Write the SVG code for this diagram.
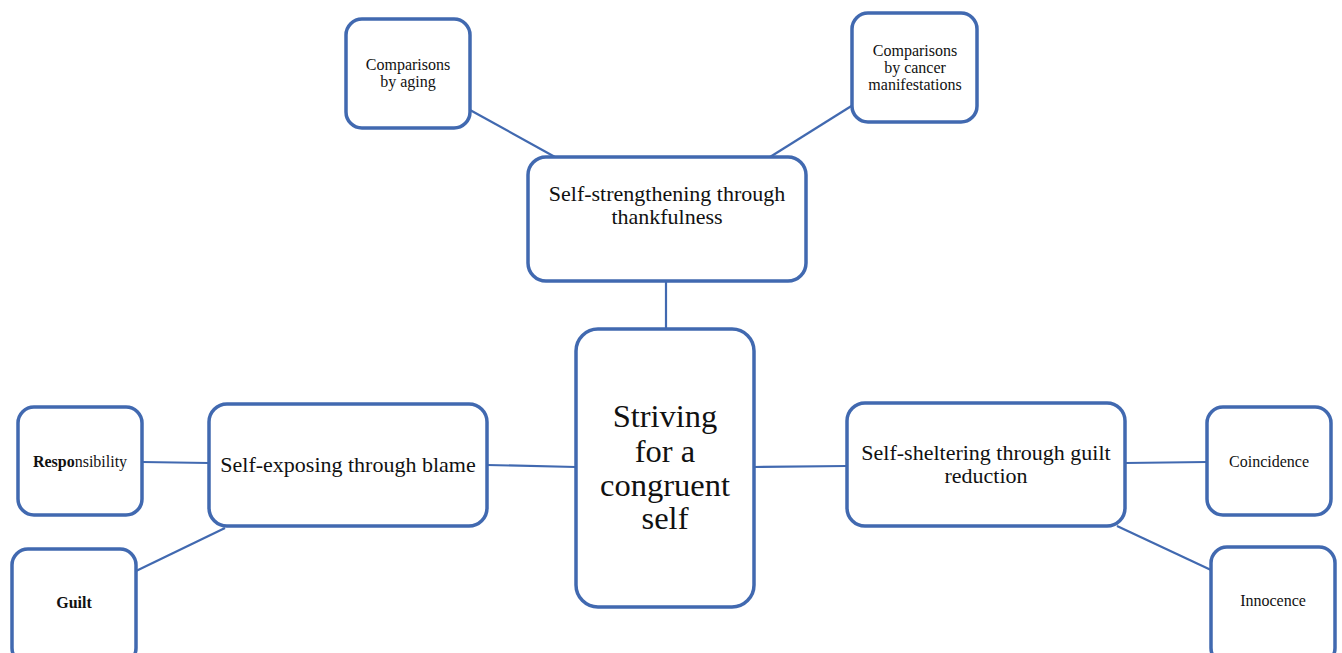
<svg xmlns="http://www.w3.org/2000/svg" width="1342" height="653" viewBox="0 0 1342 653">
<style>
.box{fill:#fff;stroke:#4169B0;stroke-width:3.5}
.ln{stroke:#4169B0;stroke-width:2.2;fill:none}
text{font-family:"Liberation Serif","Times New Roman",serif;fill:#111;text-anchor:middle}
.s{font-size:16px}
.m{font-size:22px}
.l{font-size:32.5px}
</style>
<rect width="1342" height="653" fill="#fff"/>
<g id="connectors">
<line class="ln" x1="470" y1="110" x2="555" y2="157"/>
<line class="ln" x1="853" y1="105" x2="770" y2="157"/>
<line class="ln" x1="666" y1="281" x2="666" y2="329"/>
<line class="ln" x1="487" y1="465" x2="576" y2="467"/>
<line class="ln" x1="754" y1="467" x2="847" y2="466"/>
<line class="ln" x1="142" y1="462" x2="209" y2="463"/>
<line class="ln" x1="136" y1="571" x2="225" y2="528"/>
<line class="ln" x1="1125" y1="463" x2="1207" y2="462"/>
<line class="ln" x1="1117" y1="526" x2="1211" y2="570"/>
</g>
<g id="aging">
<rect class="box" x="346" y="19" width="124" height="109" rx="16"/>
<text class="s" x="408" y="70">Comparisons</text>
<text class="s" x="408" y="87">by aging</text>
</g>
<g id="cancer">
<rect class="box" x="852" y="13" width="125" height="109" rx="16"/>
<text class="s" x="915" y="56">Comparisons</text>
<text class="s" x="915" y="73">by cancer</text>
<text class="s" x="915" y="90">manifestations</text>
</g>
<g id="strengthening">
<rect class="box" x="528" y="157" width="278" height="124" rx="18"/>
<text class="m" x="667" y="201">Self-strengthening through</text>
<text class="m" x="667" y="224">thankfulness</text>
</g>
<g id="center">
<rect class="box" x="576" y="329" width="178" height="278" rx="22"/>
<text class="l" x="665" y="427">Striving</text>
<text class="l" x="665" y="462">for a</text>
<text class="l" x="665" y="496">congruent</text>
<text class="l" x="665" y="529">self</text>
</g>
<g id="exposing">
<rect class="box" x="209" y="404" width="278" height="122" rx="18"/>
<text class="m" x="348" y="472">Self-exposing through blame</text>
</g>
<g id="sheltering">
<rect class="box" x="847" y="403" width="278" height="123" rx="18"/>
<text class="m" x="986" y="460">Self-sheltering through guilt</text>
<text class="m" x="986" y="483">reduction</text>
</g>
<g id="responsibility">
<rect class="box" x="18" y="407" width="124" height="108" rx="16"/>
<text class="s" x="80" y="467"><tspan font-weight="bold">Respo</tspan>nsibility</text>
</g>
<g id="guilt">
<rect class="box" x="12" y="549" width="124" height="115" rx="16"/>
<text class="s" x="74" y="608" font-weight="bold">Guilt</text>
</g>
<g id="coincidence">
<rect class="box" x="1207" y="407" width="124" height="108" rx="16"/>
<text class="s" x="1269" y="467">Coincidence</text>
</g>
<g id="innocence">
<rect class="box" x="1211" y="547" width="124" height="117" rx="16"/>
<text class="s" x="1273" y="606">Innocence</text>
</g>
</svg>
